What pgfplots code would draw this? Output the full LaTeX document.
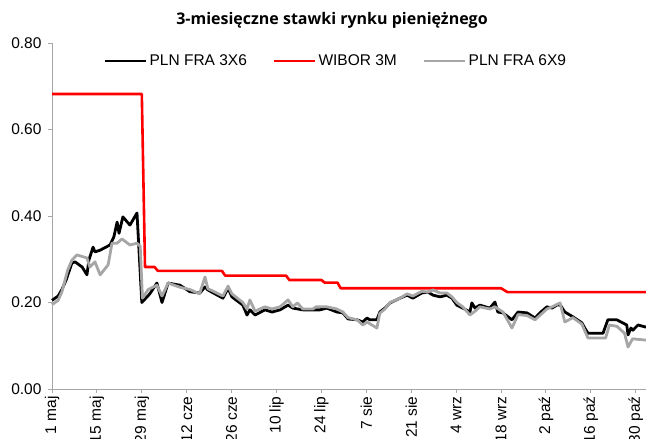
\documentclass[border=0pt]{standalone}
\usepackage{fontspec}
\setmainfont{Liberation Sans}
\newfontfamily\titlefont{Open Sans}
\usepackage{pgfplots}
\pgfplotsset{compat=1.18}
\usepackage{pgfplotstable}

\pgfplotstableread{
d v
0 0.205
1.9 0.215
3.1 0.23
4.4 0.252
6.2 0.291
7.2 0.294
9.4 0.282
10.9 0.264
11.5 0.298
12.8 0.328
13.4 0.317
15.0 0.321
18.1 0.333
19.3 0.352
20.3 0.386
20.9 0.36
22.1 0.398
24.3 0.379
26.5 0.407
28.0 0.20
30.5 0.22
32.7 0.245
34.3 0.20
36.2 0.245
39.9 0.24
43.0 0.225
46.1 0.222
47.7 0.236
48.6 0.229
53.3 0.21
54.9 0.233
56.1 0.213
59.5 0.194
60.8 0.171
61.7 0.183
63.3 0.171
66.4 0.183
68.6 0.178
71.1 0.183
73.6 0.194
75.1 0.187
78.2 0.183
81.4 0.183
83.5 0.183
85.7 0.187
88.8 0.178
90.7 0.176
92.3 0.162
95.1 0.16
96.9 0.155
98.2 0.164
99.1 0.16
101.3 0.16
102.2 0.178
103.8 0.187
105.4 0.199
108.5 0.21
110.7 0.217
112.5 0.21
115.3 0.222
117.2 0.224
118.8 0.217
121.0 0.213
123.1 0.217
124.7 0.21
126.2 0.194
128.1 0.187
130.3 0.178
130.9 0.199
131.9 0.187
133.4 0.194
136.5 0.187
138.1 0.201
139.0 0.178
140.6 0.176
143.4 0.16
145.3 0.178
148.1 0.176
150.6 0.164
152.1 0.176
154.3 0.19
155.9 0.187
157.4 0.194
158.4 0.195
159.9 0.178
162.4 0.167
165.2 0.153
166.1 0.141
167.1 0.129
171.8 0.129
173.3 0.16
176.1 0.16
179.2 0.148
179.6 0.125
180.5 0.141
181.1 0.136
182.7 0.148
185.2 0.143
}\fraA

\pgfplotstableread{
d v
0 0.682
28 0.682
29 0.282
32 0.282
33 0.273
53 0.273
54 0.262
73 0.262
74 0.252
84 0.252
85 0.246
89 0.246
90 0.233
140 0.233
142 0.224
185.2 0.224
}\wibor

\pgfplotstableread{
d v
0 0.195
1.9 0.205
3.1 0.225
4.9 0.275
6.2 0.298
7.8 0.31
10.9 0.303
11.8 0.282
13.4 0.294
15.0 0.264
17.5 0.287
18.7 0.337
20.3 0.337
21.8 0.347
24.3 0.333
26.5 0.337
27.5 0.33
28.2 0.21
30.0 0.23
32.7 0.24
34.3 0.215
36.2 0.245
40.0 0.235
43.0 0.23
46.0 0.22
47.7 0.259
48.6 0.232
53.3 0.215
54.9 0.238
56.1 0.22
59.5 0.2
60.8 0.185
61.7 0.206
63.3 0.18
66.4 0.19
68.6 0.185
71.1 0.19
73.6 0.206
75.1 0.19
76.5 0.199
78.2 0.185
81.4 0.185
82.3 0.19
85.7 0.19
88.8 0.185
90.7 0.178
92.3 0.165
95.1 0.16
96.9 0.148
98.2 0.155
101.3 0.141
102.2 0.175
103.8 0.185
105.4 0.2
108.5 0.21
110.7 0.22
112.5 0.215
115.3 0.226
117.2 0.224
118.8 0.229
121.0 0.222
123.1 0.222
124.7 0.213
126.2 0.2
128.1 0.19
130.3 0.171
131.9 0.18
133.4 0.19
136.5 0.185
138.1 0.19
140.6 0.178
143.4 0.141
145.3 0.172
148.1 0.17
150.6 0.16
152.1 0.17
154.3 0.185
155.9 0.19
158.4 0.199
159.9 0.155
162.4 0.165
165.2 0.15
167.1 0.118
172.6 0.118
173.8 0.148
176.1 0.145
178.5 0.129
179.6 0.097
181.0 0.116
185.2 0.113
}\fraB

\definecolor{axgray}{HTML}{A6A6A6}
\definecolor{sergray}{HTML}{A6A6A6}

\begin{document}
\begin{tikzpicture}
\path[use as bounding box] (0bp,0bp) rectangle (646bp,439bp);
\node[font={\titlefont\bfseries\fontsize{16bp}{19bp}\selectfont}, anchor=center] at (332bp,419bp) {3-miesięczne stawki rynku pieniężnego};
\begin{axis}[
  at={(52bp,50bp)}, anchor=south west,
  scale only axis, width=594bp, height=346bp,
  xmin=0, xmax=185.2, ymin=0, ymax=0.8,
  axis x line*=bottom, axis y line*=left,
  axis line style={draw=axgray, line width=1bp},
  every tick/.style={draw=axgray, line width=1bp},
  tick align=outside, major tick length=4bp,
  ytick={0,0.2,0.4,0.6,0.8},
  yticklabel style={xshift=-3bp, /pgf/number format/.cd, fixed, fixed zerofill, precision=2, assume math mode=true},
  /pgf/number format/assume math mode=true,
  xtick={0,14,28,42,56,70,84,98,112,126,140,154,168,182},
  xticklabels={1 maj,15 maj,29 maj,12 cze,26 cze,10 lip,24 lip,7 sie,21 sie,4 wrz,18 wrz,2 paź,16 paź,30 paź},
  x tick label style={rotate=90, anchor=east},
  tick label style={font=\fontsize{15.5bp}{18bp}\selectfont},
  legend columns=3,
  legend style={at={(0.478,0.948)}, anchor=center, draw=none, fill=none,
    font=\fontsize{15.5bp}{18bp}\selectfont,
    /tikz/every even column/.append style={column sep=24bp}},
  legend image code/.code={\draw[#1] (0bp,0bp) -- (41bp,0bp);},
  clip=false,
]
\addplot[black, line width=2.8bp, line join=round] table[x=d,y=v] {\fraA};
\addlegendentry{PLN FRA 3X6}
\addplot[red, line width=2.6bp, line join=round] table[x=d,y=v] {\wibor};
\addlegendentry{WIBOR 3M}
\addplot[sergray, line width=2.8bp, line join=round] table[x=d,y=v] {\fraB};
\addlegendentry{PLN FRA 6X9}
\end{axis}
\end{tikzpicture}
\end{document}
